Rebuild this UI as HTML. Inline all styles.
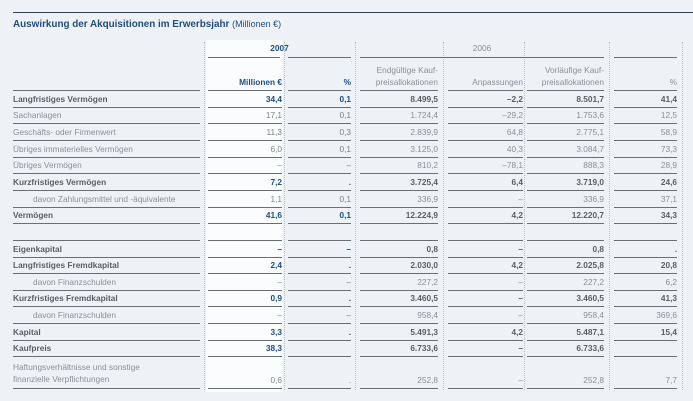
<!DOCTYPE html>
<html><head><meta charset="utf-8">
<style>
html,body{margin:0;padding:0}
body{width:693px;height:401px;background:#eef2f7;position:relative;overflow:hidden;font-family:"Liberation Sans",Arial,sans-serif;}
.a{position:absolute;white-space:nowrap;font-size:8.3px;line-height:10px;}
.ln{position:absolute;height:1px;background:#6a6f75;}
.vd{position:absolute;width:0;border-left:1px dotted #b8bec6;}
</style></head>
<body>
<div class="ln" style="left:13px;top:12px;width:680px;background:#2a4460"></div>
<div class="a" style="left:13px;top:19px;font-size:9.9px;color:#1d4f80"><b>Auswirkung der Akquisitionen im Erwerbsjahr</b> <span style="font-size:9px">(Millionen €)</span></div>
<div id="bgcol" style="position:absolute;left:206px;top:40px;width:77px;height:352px;background:#fbfcfe"></div>
<div id="t"></div>
<script>
const labels=["Langfristiges Vermögen","Sachanlagen","Geschäfts- oder Firmenwert","Übriges immaterielles Vermögen","Übriges Vermögen","Kurzfristiges Vermögen","davon Zahlungsmittel und -äquivalente","Vermögen","","Eigenkapital","Langfristiges Fremdkapital","davon Finanzschulden","Kurzfristiges Fremdkapital","davon Finanzschulden","Kapital","Kaufpreis","Haftungsverhältnisse und sonstige|finanzielle Verpflichtungen"];
const boldRows=[1,0,0,0,0,1,0,1,0,1,1,0,1,0,1,1,0];
const indentRows=[0,0,0,0,0,0,1,0,0,0,0,1,0,1,0,0,0];
const mio2007=["34,4","17,1","11,3","6,0","–","7,2","1,1","41,6","","–","2,4","–","0,9","–","3,3","38,3","0,6"];
const pct2007=["0,1","0,1","0,3","0,1","–",".","0,1","0,1","","–",".","–",".","–",".","",". "];
const final2006=["8.499,5","1.724,4","2.839,9","3.125,0","810,2","3.725,4","336,9","12.224,9","","0,8","2.030,0","227,2","3.460,5","958,4","5.491,3","6.733,6","252,8"];
const adj2006=["–2,2","–29,2","64,8","40,3","–78,1","6,4","–","4,2","","–","4,2","–","–","–","4,2","–","–"];
const prelim2006=["8.501,7","1.753,6","2.775,1","3.084,7","888,3","3.719,0","336,9","12.220,7","","0,8","2.025,8","227,2","3.460,5","958,4","5.487,1","6.733,6","252,8"];
const pct2006=["41,4","12,5","58,9","73,3","28,9","24,6","37,1","34,3","",".","20,8","6,2","41,3","369,6","15,4","","7,7"];
const cols=[[13,200],[208,282],[288,351],[360,438],[448,523],[527,604],[614,677]];
const dots=[204,284,355,443,524,609,682];
const rowH=16.65, headLine=90;
const root=document.getElementById('t');
function el(cls,css,txt){const d=document.createElement('div');d.className=cls;d.style.cssText=css;if(txt!==undefined)d.innerHTML=txt;root.appendChild(d);return d;}
dots.forEach((x,i)=>{const d=el('vd',`left:${x}px;top:42px;height:348px`);

});
let h;
h=el('a',`left:208px;width:143px;top:43px;text-align:center;color:#1d4f80;font-weight:bold`,'2007');


h=el('a',`left:360px;width:244px;top:43px;text-align:center;color:#8a9098`,'2006');


[[208,280],[288,351],[360,604],[614,677]].forEach(s=>{const d=el('ln',`left:${s[0]}px;top:57px;width:${s[1]-s[0]}px`);

});
const heads=["Millionen €","%","Endgültige Kauf-<br>preisallokationen","Anpassungen","Vorläufige Kauf-<br>preisallokationen","%"];
heads.forEach((t,i)=>{const c=cols[i+1];const two=t.includes('<br>');
const d=el('a',`left:${c[0]-20}px;width:${c[1]-c[0]+20}px;text-align:right;top:${two?65:77}px;line-height:11.5px;color:${i<2?'#1d4f80':'#8a9098'};${i<2?'font-weight:bold':''}`,t);

});
cols.forEach(c=>{const d=el('ln',`left:${c[0]}px;top:${headLine}px;width:${c[1]-c[0]}px`);

});
const data=[mio2007,pct2007,final2006,adj2006,prelim2006,pct2006];
let y=headLine;
labels.forEach((lab,r)=>{
 const last=r===labels.length-1; const hh=last?32:rowH; const bottom=y+hh;
 const b=boldRows[r];
 const ty=bottom-13;
 const lt=lab.split('|');
 const d=el('a',`left:${indentRows[r]?33:13}px;top:${last?y+6:ty}px;line-height:11.5px;color:${b?'#5a5f66':'#8a9098'};${b?'font-weight:bold':''}`,lt.join('<br>'));
 
 
 data.forEach((arr,i)=>{const c=cols[i+1];
  const col=(i<2)?(b?'#1d4f80':'#7d848c'):(b?'#5a5f66':'#8a9098');
  const v=el('a',`left:${c[0]}px;width:${c[1]-c[0]}px;text-align:right;top:${ty}px;color:${col};${b?'font-weight:bold':''}`,arr[r]);
  
  });
 cols.forEach(c=>{const l=el('ln',`left:${c[0]}px;top:${Math.round(bottom)}px;width:${c[1]-c[0]}px`);
  
  });
 y=bottom;
});
</script>
</body></html>
